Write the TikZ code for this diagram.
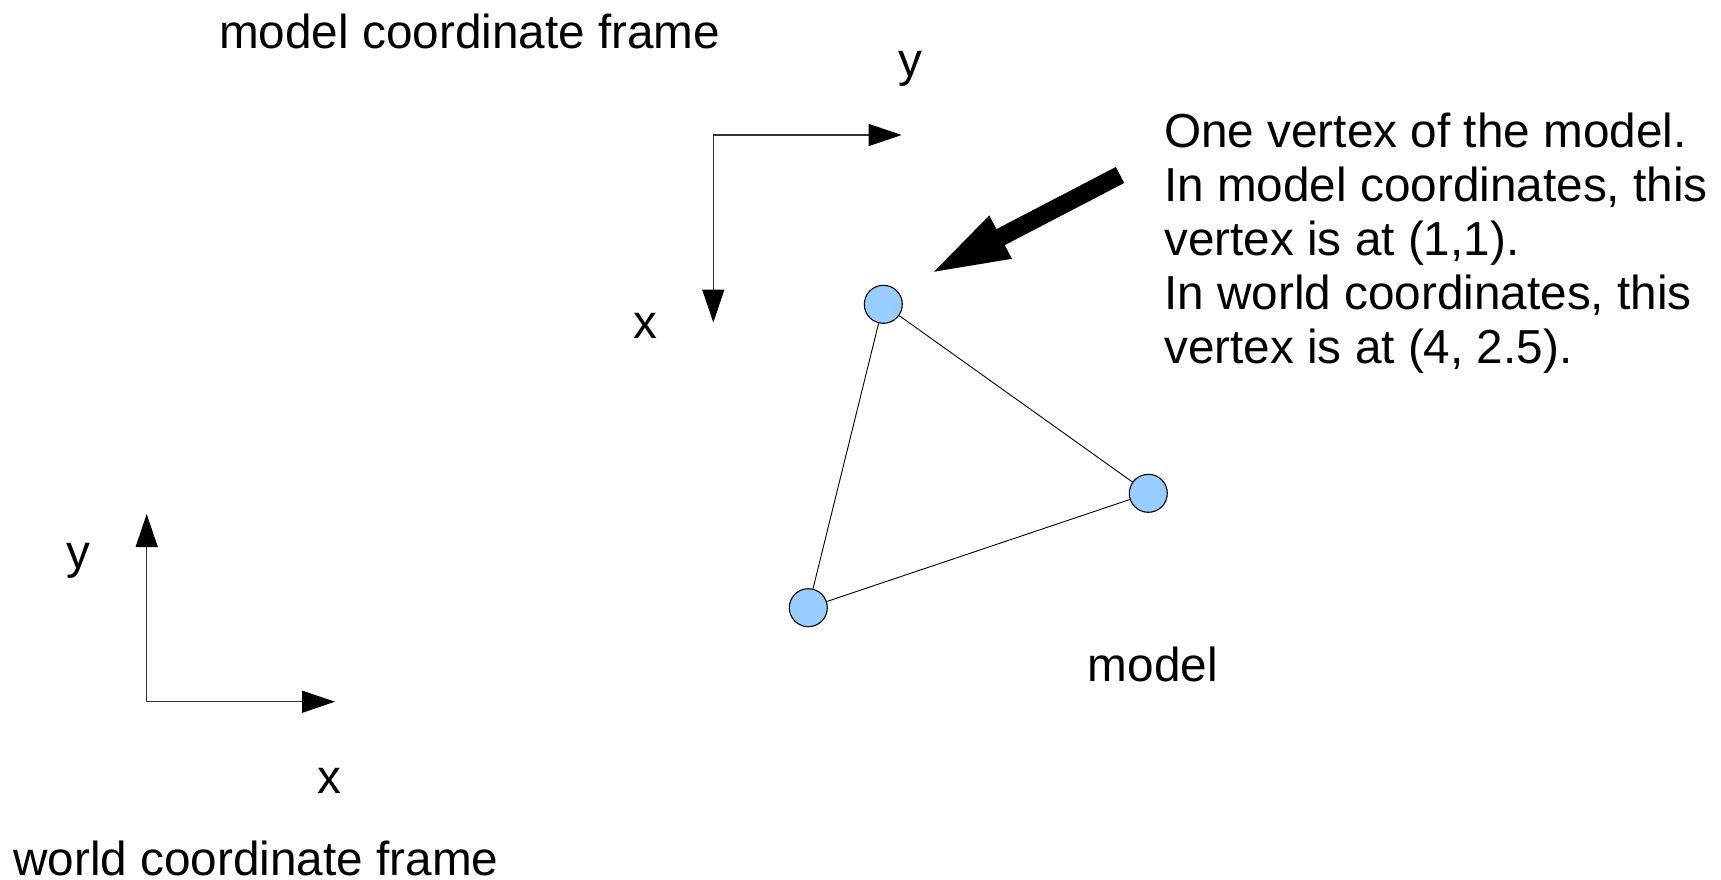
\documentclass[tikz,border=0pt]{standalone}
\usepackage{fontspec}
\setmainfont{Liberation Sans}
\usetikzlibrary{arrows.meta}
\definecolor{vertexblue}{HTML}{99CCFF}
\begin{document}
\begin{tikzpicture}[x=1pt,y=-1pt,
  lbl/.style={inner sep=0pt, font=\fontsize{47.7}{54}\selectfont},
  axis/.style={line width=1.3pt, draw=black!80, -{Triangle[length=33pt,width=22pt,color=black]}},
  vtx/.style={circle, draw=black, line width=1.1pt, fill=vertexblue, minimum size=38pt, inner sep=0pt},
  edge/.style={line width=0.9pt, draw=black}]
\useasboundingbox (0,0) rectangle (1721,879);
\fill[white] (0,0) rectangle (1721,879);

% labels
\node[lbl, anchor=base west] (mcf) at (219,48) {model coordinate frame};
\node[lbl, anchor=base west] (wcf) at (13,875) {world coordinate frame};
\node[lbl, anchor=base] (my) at (910.5,76.5) {y};
\node[lbl, anchor=base] (mx) at (645,338) {x};
\node[lbl, anchor=base] (wy) at (78,568) {y};
\node[lbl, anchor=base] (wx) at (329,793) {x};
\node[lbl, anchor=base west] (mdl) at (1087.7,681.6) {model};
\node[lbl, anchor=north west, align=left] (desc) at (1164,112.5)
  {One vertex of the model.\\In model coordinates, this\\vertex is at (1,1).\\In world coordinates, this\\vertex is at (4, 2.5).};

% model coordinate frame
\coordinate (mo) at (713.3,135);
\coordinate (myend) at (901.7,135);
\coordinate (mxend) at (713.3,322.5);
\draw[axis] (mo) -- (myend);
\draw[axis] (mo) -- (mxend);

% world coordinate frame
\coordinate (wo) at (146.7,701.7);
\coordinate (wyend) at (146.7,514);
\coordinate (wxend) at (335,701.7);
\draw[axis] (wo) -- (wyend);
\draw[axis] (wo) -- (wxend);

% triangle model
\node[vtx] (v1) at (883.3,304.3) {};
\node[vtx] (v2) at (1148.3,493.3) {};
\node[vtx] (v3) at (808.3,607.7) {};
\draw[edge] (v1) -- (v2);
\draw[edge] (v2) -- (v3);
\draw[edge] (v3) -- (v1);

% big pointer arrow
\fill[black] (1115.85,167) -- (996.45,229.1) -- (989.3,215.4) -- (934,271.7)
  -- (1011.9,258.8) -- (1004.75,245.1) -- (1124.15,183) -- cycle;
\end{tikzpicture}
\end{document}
